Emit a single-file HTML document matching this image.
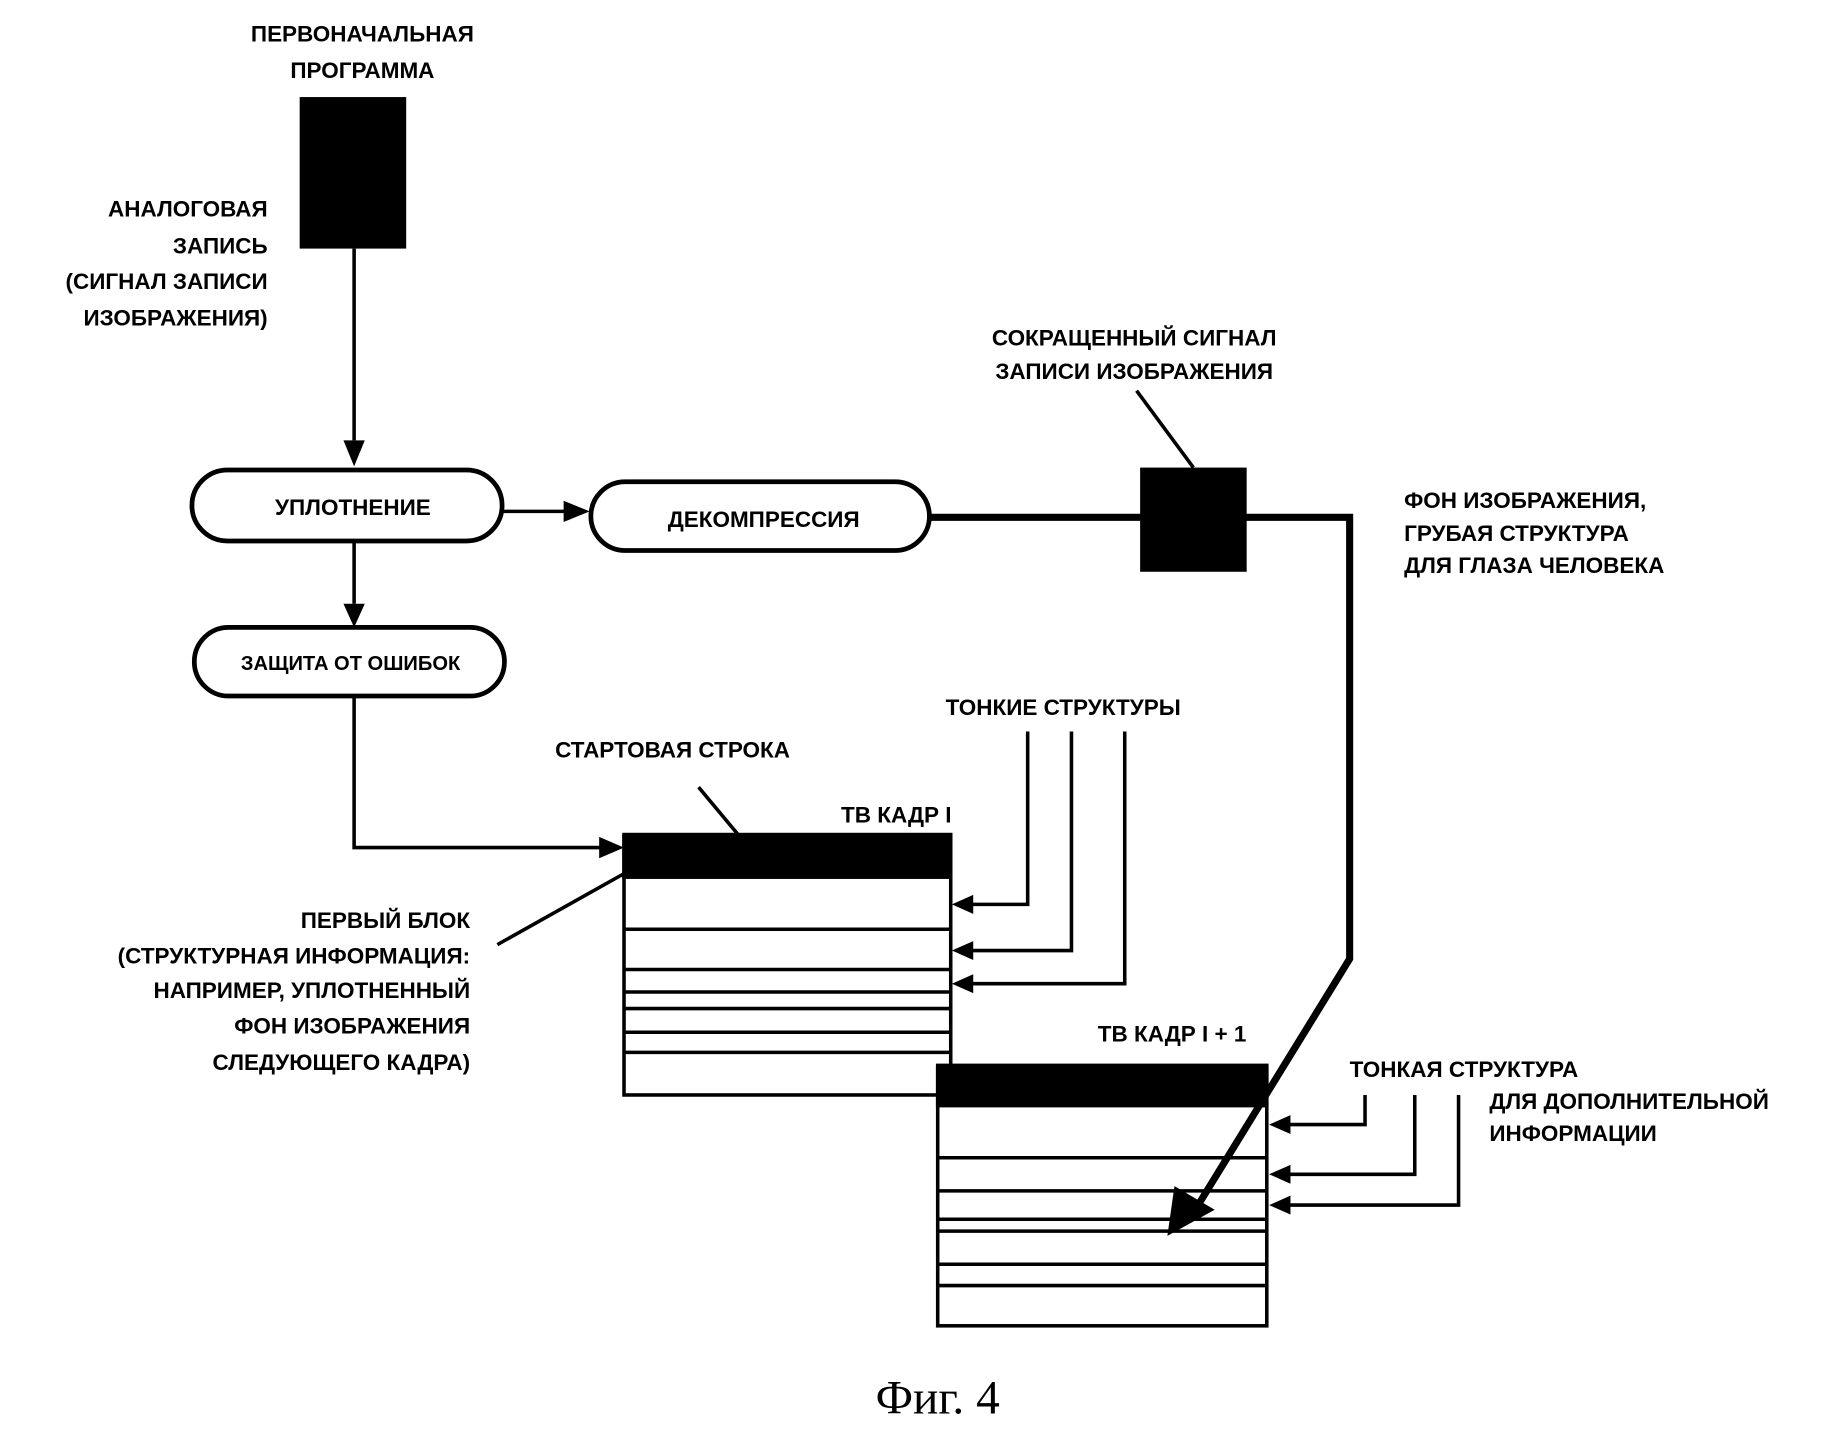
<!DOCTYPE html>
<html><head><meta charset="utf-8"><style>
html,body{margin:0;padding:0;background:#fff;}
svg{display:block;}
text{font-family:"Liberation Sans",sans-serif;font-weight:bold;fill:#000;}
</style></head><body>
<svg width="1847" height="1443" viewBox="0 0 1560 1219" xmlns="http://www.w3.org/2000/svg">
<g font-size="19">
<text x="306" y="35" text-anchor="middle">ПЕРВОНАЧАЛЬНАЯ</text>
<text x="306" y="66" text-anchor="middle">ПРОГРАММА</text>
<text x="226" y="183" text-anchor="end">АНАЛОГОВАЯ</text>
<text x="226" y="214" text-anchor="end">ЗАПИСЬ</text>
<text x="226" y="244" text-anchor="end">(СИГНАЛ ЗАПИСИ</text>
<text x="226" y="275" text-anchor="end">ИЗОБРАЖЕНИЯ)</text>
</g>
<rect x="253" y="82" width="90" height="128" fill="#000"/>
<g stroke="#000" stroke-width="3" fill="none">
<line x1="299" y1="210" x2="299" y2="372"/>
<path d="M290,372 L308,372 L299,394 z" fill="#000" stroke="none"/>
<rect x="162" y="397" width="262" height="60" rx="30" stroke-width="4"/>
<line x1="424" y1="432" x2="478" y2="432"/>
<path d="M476,423 L498,432 L476,441 z" fill="#000" stroke="none"/>
<rect x="499" y="407" width="286" height="58" rx="29" stroke-width="4"/>
<line x1="299" y1="457" x2="299" y2="510"/>
<path d="M290,510 L308,510 L299,530 z" fill="#000" stroke="none"/>
<rect x="164" y="530" width="262" height="58" rx="29" stroke-width="4"/>
<polyline points="299,588 299,716 508,716"/>
<path d="M506,707 L527,716 L506,725 z" fill="#000" stroke="none"/>
</g>
<g font-size="19">
<text x="298" y="435" text-anchor="middle">УПЛОТНЕНИЕ</text>
<text x="645" y="445" text-anchor="middle">ДЕКОМПРЕССИЯ</text>
<text x="296" y="566" text-anchor="middle" font-size="17">ЗАЩИТА ОТ ОШИБОК</text>
<text x="958" y="292" text-anchor="middle">СОКРАЩЕННЫЙ СИГНАЛ</text>
<text x="958" y="320" text-anchor="middle">ЗАПИСИ ИЗОБРАЖЕНИЯ</text>
<text x="1186" y="429">ФОН ИЗОБРАЖЕНИЯ,</text>
<text x="1186" y="457">ГРУБАЯ СТРУКТУРА</text>
<text x="1186" y="484">ДЛЯ ГЛАЗА ЧЕЛОВЕКА</text>
<text x="898" y="604" text-anchor="middle">ТОНКИЕ СТРУКТУРЫ</text>
<text x="568" y="640" text-anchor="middle">СТАРТОВАЯ СТРОКА</text>
<text x="757" y="695" text-anchor="middle">ТВ КАДР I</text>
<text x="397" y="784" text-anchor="end">ПЕРВЫЙ БЛОК</text>
<text x="397" y="814" text-anchor="end">(СТРУКТУРНАЯ ИНФОРМАЦИЯ:</text>
<text x="397" y="843" text-anchor="end">НАПРИМЕР, УПЛОТНЕННЫЙ</text>
<text x="397" y="873" text-anchor="end">ФОН ИЗОБРАЖЕНИЯ</text>
<text x="397" y="904" text-anchor="end">СЛЕДУЮЩЕГО КАДРА)</text>
<text x="990" y="880" text-anchor="middle">ТВ КАДР I + 1</text>
<text x="1140" y="910">ТОНКАЯ СТРУКТУРА</text>
<text x="1258" y="937">ДЛЯ ДОПОЛНИТЕЛЬНОЙ</text>
<text x="1258" y="964">ИНФОРМАЦИИ</text>
</g>
<g stroke="#000" fill="none">
<line x1="960" y1="330" x2="1008" y2="395" stroke-width="3"/>
<line x1="590" y1="665" x2="625" y2="707" stroke-width="3"/>
<line x1="420" y1="798" x2="527" y2="738" stroke-width="3"/>
</g>
<!-- Frame I -->
<g stroke="#000" stroke-width="3" fill="none">
<rect x="527" y="707" width="276" height="218"/>
<rect x="527" y="705" width="276" height="36" fill="#000"/>
<line x1="527" y1="785" x2="803" y2="785"/>
<line x1="527" y1="819" x2="803" y2="819"/>
<line x1="527" y1="838" x2="803" y2="838"/>
<line x1="527" y1="852" x2="803" y2="852"/>
<line x1="527" y1="872" x2="803" y2="872"/>
<line x1="527" y1="889" x2="803" y2="889"/>
<polyline points="868,618 868,764 820,764"/>
<polyline points="905,618 905,803 820,803"/>
<polyline points="950,618 950,831 820,831"/>
</g>
<g fill="#000">
<path d="M822,756 L804,764 L822,772 z"/>
<path d="M822,795 L804,803 L822,811 z"/>
<path d="M822,823 L804,831 L822,839 z"/>
</g>
<!-- Frame I+1 -->
<g stroke="#000" stroke-width="3" fill="none">
<rect x="792" y="902" width="278" height="218" fill="#fff"/>
<rect x="792" y="900" width="278" height="34" fill="#000"/>
<line x1="792" y1="978" x2="1070" y2="978"/>
<line x1="792" y1="1006" x2="1070" y2="1006"/>
<line x1="792" y1="1030" x2="1070" y2="1030"/>
<line x1="792" y1="1040" x2="1070" y2="1040"/>
<line x1="792" y1="1068" x2="1070" y2="1068"/>
<line x1="792" y1="1086" x2="1070" y2="1086"/>
<polyline points="1153,925 1153,950 1088,950"/>
<polyline points="1195,925 1195,992 1088,992"/>
<polyline points="1232,925 1232,1018 1088,1018"/>
</g>
<polyline points="785,437 1140,437 1140,810 1012,1018" stroke="#000" stroke-width="6" fill="none" stroke-linejoin="miter"/>
<rect x="963" y="395" width="90" height="88" fill="#000"/>
<path d="M986,1044 L992,1002 L1026,1022 z" fill="#000"/>
<g fill="#000">
<path d="M1090,942 L1072,950 L1090,958 z"/>
<path d="M1090,984 L1072,992 L1090,1000 z"/>
<path d="M1090,1010 L1072,1018 L1090,1026 z"/>
</g>
<text x="792" y="1194" text-anchor="middle" font-size="40" style="font-family:'Liberation Serif',serif;font-weight:normal">Фиг. 4</text>
</svg>
</body></html>
